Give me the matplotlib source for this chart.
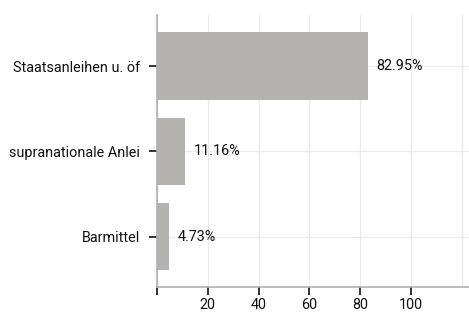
import matplotlib
matplotlib.use("Agg")
import matplotlib.pyplot as plt

# data, bottom to top
categories = ["Barmittel", "supranationale Anlei", "Staatsanleihen u. öf"]
values = [4.73, 11.16, 82.95]
value_labels = ["4.73%", "11.16%", "82.95%"]
xticks = [0, 20, 40, 60, 80, 100, 120]
xtick_labels = ["", "20", "40", "60", "80", "100", ""]

plt.rcParams["font.family"] = ["Roboto", "DejaVu Sans"]
fs = 10.4

fig = plt.figure(figsize=(4.69, 3.16), dpi=100)
ax = fig.add_axes([157 / 469, 1 - 287 / 316, 1 - 157 / 469, (287 - 15) / 316])

ypos = list(range(len(categories)))
ax.barh(ypos, values, height=0.79, color="#b4b3af", zorder=2)

for y, v, lab in zip(ypos, values, value_labels):
    ax.text(v + 3.5, y, lab, va="center", ha="left", fontsize=fs, color="#111111")

ax.set_xlim(0, 122.8)
ax.set_ylim(-0.59, 2.6)
ax.set_yticks(ypos)
ax.set_yticklabels(categories, fontsize=fs)
ax.set_xticks(xticks)
ax.set_xticklabels(xtick_labels, fontsize=fs)

ax.grid(True, color="#ebebeb", linewidth=1, zorder=0)
ax.set_axisbelow(True)

for s in ["top", "right"]:
    ax.spines[s].set_visible(False)
ax.spines["left"].set_color("#b0b0b0")
ax.spines["bottom"].set_color("#b0b0b0")
ax.spines["left"].set_linewidth(1.2)
ax.spines["bottom"].set_linewidth(1.2)

ax.tick_params(axis="y", length=6, width=1.2, color="#111111", pad=6, labelcolor="#111111")
ax.tick_params(axis="x", length=6, width=1.2, color="#111111", pad=2, labelcolor="#111111")
ax.xaxis.get_major_ticks()[-1].tick1line.set_visible(False)

fig.savefig("out.png", dpi=100)
